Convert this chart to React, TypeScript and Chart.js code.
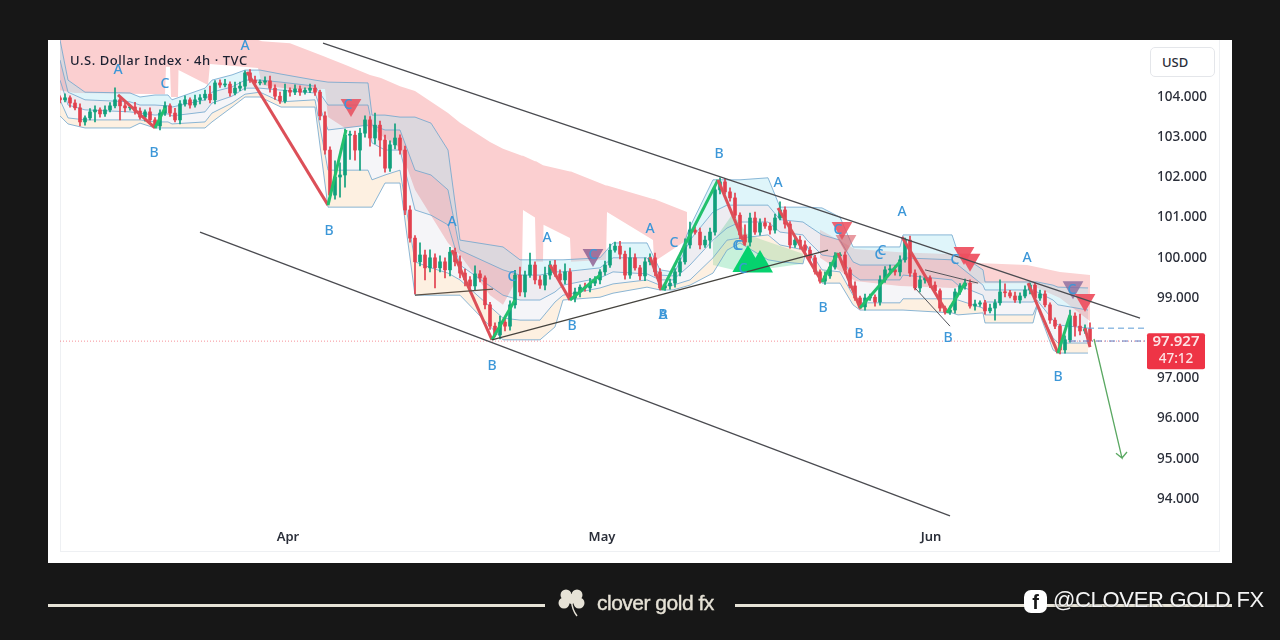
import React, { useEffect, useRef } from "react";
import { Chart, registerables } from "chart.js";

Chart.register(...registerables);

const title = "U.S. Dollar Index · 4h · TVC";
const monthTicks = [45.6, 108.4, 174.2];
const monthLabels = ["Apr", "May", "Jun"];
const lastPrice = 97.927;
const countdown = "47:12";

const closes = [
  103.93,103.98,103.85,103.73,103.38,103.48,103.63,103.68,103.58,103.68,
  103.78,103.93,103.78,103.73,103.75,103.65,103.5,103.63,103.43,103.28,
  103.6,103.78,103.6,103.43,103.83,103.93,103.8,103.93,103.98,104.07,
  103.93,104.35,104.3,104.32,104.1,104.22,104.27,104.6,104.42,104.35,
  104.37,104.4,104.22,104.02,103.9,104.17,104.12,104.2,104.12,104.17,
  104.22,104.12,103.53,102.68,101.56,102.01,102.06,103.05,103.05,102.68,
  103.1,103.43,102.98,103.3,102.93,102.23,102.81,102.98,102.68,101.19,
  100.49,99.9,100.07,99.75,100.0,99.75,99.9,99.7,100.14,99.9,
  99.62,99.45,99.3,99.6,99.5,98.83,98.3,98.08,98.4,98.3,
  98.83,99.57,99.15,99.57,99.82,99.45,99.32,99.57,99.82,99.6,
  99.45,99.65,99.0,99.15,99.27,99.25,99.37,99.45,99.65,99.82,
  100.19,100.29,100.09,99.57,100.0,99.75,99.55,99.9,100.0,99.65,
  99.25,99.3,99.37,99.65,99.9,100.32,100.69,100.64,100.32,100.44,
  100.64,101.69,101.89,101.64,101.49,101.06,100.57,100.39,100.99,100.64,
  100.87,100.79,100.69,100.99,101.19,100.84,100.32,100.44,100.32,100.19,
  100.0,99.65,99.42,99.55,99.77,100.05,100.07,99.7,99.3,99.0,
  98.78,99.0,99.02,98.9,99.45,99.7,99.7,99.65,99.95,100.44,
  99.62,99.25,99.45,99.5,99.32,99.18,98.75,98.65,98.7,99.15,
  99.3,99.37,98.8,98.85,98.88,98.68,98.75,98.88,99.15,99.13,
  99.05,98.95,99.05,99.2,99.32,99.0,99.1,98.83,98.45,98.3,
  97.71,97.96,98.55,98.3,98.18,98.23,97.93,
];
const upperWick = [
  .05,.1,.05,.08,.1,.05,.08,.1,.05,.1,
  .08,.3,.05,.1,.05,.12,.08,.05,.1,.06,
  .08,.1,.05,.12,.08,.1,.05,.12,.08,.1,
  .2,.06,.08,.12,.06,.15,.1,.05,.08,.1,
  .06,.1,.12,.08,.1,.15,.06,.1,.08,.06,
  .1,.08,.05,.1,.08,.4,.3,.15,.1,.1,
  .12,.1,.08,.3,.1,.12,.1,.35,.08,.1,
  .1,.06,.3,.12,.2,.1,.15,.1,.12,.1,
  .15,.1,.08,.2,.08,.05,.06,.08,.15,.1,
  .1,.12,.2,.1,.3,.08,.1,.2,.1,.12,
  .1,.2,.08,.1,.06,.1,.12,.08,.06,.1,
  .15,.1,.12,.08,.25,.1,.06,.1,.1,.12,
  .08,.06,.1,.08,.1,.15,.2,.08,.1,.1,
  .1,.12,.1,.08,.1,.12,.06,.25,.12,.15,
  .1,.12,.08,.1,.2,.08,.06,.08,.1,.1,
  .08,.06,.05,.1,.12,.08,.06,.08,.05,.1,
  .05,.1,.08,.06,.1,.08,.12,.1,.1,.05,
  .1,.08,.1,.06,.05,.08,.05,.05,.1,.08,
  .06,.1,.08,.1,.05,.06,.1,.08,.3,.2,
  .06,.1,.08,.1,.05,.06,.1,.08,.05,.06,
  .05,.1,.15,.08,.3,.1,.15,
];
const lowerWick = [
  .08,.05,.1,.05,.1,.08,.05,.25,.08,.06,
  .05,.05,.35,.1,.06,.08,.05,.1,.06,.05,
  .1,.06,.08,.05,.1,.06,.08,.05,.1,.06,
  .08,.1,.06,.05,.08,.05,.06,.1,.06,.08,
  .05,.06,.1,.08,.06,.05,.1,.06,.08,.05,
  .06,.08,.1,.1,.05,.1,.5,.3,.6,.25,
  .5,.1,.2,.15,.4,.1,.08,.1,.1,.12,
  .1,.8,.1,.3,.1,.5,.1,.2,.15,.1,
  .12,.15,.08,.1,.1,.1,.08,.05,.1,.12,
  .1,.08,.1,.12,.06,.1,.08,.12,.1,.06,
  .08,.1,.05,.1,.12,.08,.1,.06,.1,.08,
  .06,.05,.12,.1,.08,.06,.1,.12,.08,.1,
  .05,.06,.08,.1,.1,.06,.08,.05,.1,.06,
  .2,.08,.1,.05,.08,.06,.1,.08,.1,.06,
  .08,.06,.1,.08,.05,.1,.08,.06,.1,.05,
  .1,.06,.05,.08,.06,.05,.08,.1,.05,.06,
  .05,.08,.06,.1,.08,.06,.05,.08,.1,.06,
  .08,.05,.1,.08,.06,.05,.08,.05,.06,.08,
  .06,.08,.05,.1,.06,.08,.05,.3,.06,.1,
  .05,.06,.08,.05,.1,.08,.06,.05,.08,.06,
  .1,.08,.06,.25,.1,.06,.08,
];

// stepped channel bands
const bandX = [0,1.6,5,14,16,19,21.6,22.4,29,30.4,34.4,37,40,44.2,51,53.6,61.6,62.4,65,68,71,74.2,77.6,80,88.6,92,96,99,100.6,108,110.6,117.4,120,122.6,126,130.6,133.4,136,141.6,144,148.6,149.4,152.4,156,158.6,160,168,168.6,178.4,179.6,184.6,185,194.6,195.4,198.6,199.6,205.6];
const bandTop = [105.42,104.42,104.12,104.1,104,104.05,104.05,103.93,104.22,104.42,104.55,104.67,104.67,104.57,104.42,104.37,104.35,103.55,103.55,103.5,103.5,103.35,102.68,100.44,100.27,99.95,99.95,99.95,99.95,100,100.37,100.37,99.7,99.65,100.77,101.94,101.94,101.94,101.99,101.26,101.26,101.26,101.24,101.01,100.27,100.27,100.27,100.57,100.57,100.12,99.7,99.4,99.4,99.4,99.32,99.27,99.25];
const bandUpper = [104.92,104.12,103.93,103.88,103.8,103.8,103.78,103.75,103.93,104.12,104.25,104.42,104.42,104.37,104.27,103.8,103.8,103.3,103.18,103.18,102.18,102.06,101.69,100.19,99.7,99.57,99.57,99.65,99.65,99.75,100,100,99.57,99.55,100.44,101.14,101.31,101.31,101.31,100.95,100.89,100.82,100.57,100.44,99.9,99.82,99.82,100,99.95,99.82,99.32,99.2,99.2,99.15,98.95,98.83,98.7];
const bandMid = [104.42,103.8,103.68,103.63,103.6,103.55,103.58,103.53,103.63,103.85,104.02,104.22,104.22,104.17,104.1,103.18,103.3,102.86,102.68,102.68,101.19,101.06,100.82,99.82,99.07,98.95,98.95,99.15,99.32,99.5,99.65,99.6,99.45,99.45,99.82,100.44,100.74,100.89,100.89,100.64,100.57,100.44,100.07,100,99.57,99.45,99.45,99.57,99.45,99.32,99.07,98.9,98.9,98.95,98.45,98.33,98.25];
const bandLower = [103.93,103.48,103.43,103.43,103.43,103.38,103.38,103.33,103.38,103.6,103.85,104.07,104.12,103.88,103.93,102.18,102.18,101.94,102.06,102.18,99.9,99.75,99.62,99.45,98.5,98.45,98.45,98.9,99.07,99.25,99.35,99.45,99.32,99.32,99.45,100,100.44,100.49,100.57,100.32,100.2,100.29,99.7,99.65,99.07,98.88,98.88,98.98,98.98,98.95,98.75,98.58,98.58,98.83,98.01,97.88,97.88];
const bandBottom = [103.53,103.33,103.23,103.23,103.35,103.23,103.23,103.23,103.23,103.38,103.75,104,104,103.75,103.75,101.26,101.26,101.26,101.86,101.86,99.07,99.07,99.07,99.07,97.96,97.96,97.96,98.28,98.95,99.02,99.12,99.27,99.2,99.2,99.32,99.62,100.19,100.37,99.95,99.9,99.85,100.29,99.37,99.37,98.83,98.7,98.7,98.7,98.63,98.58,98.63,98.38,98.38,98.78,97.71,97.63,97.63];

// resistance cloud
const cloudX = [0,3,21,21.2,22,22.2,23.6,23.7,29.6,30,39.6,40.4,46,53,53.6,57,62,64.2,68,71,77.6,80,86,88.6,92.4,92.6,95,95.2,96.6,96.7,102,102.2,109.2,109.4,118.6,118.8,125.4];
const cloudTop = [105.42,105.42,105.42,105.42,105.42,105.42,105.42,105.42,105.42,105.42,105.42,105.39,105.34,105.0,104.97,104.8,104.55,104.47,104.27,104.15,103.6,103.36,102.88,102.71,102.54,102.54,102.4,102.4,102.3,102.3,102.15,102.15,101.8,101.8,101.46,101.46,101.14];
const cloudBottom = [104.17,104.1,104.07,104.75,104.75,104.0,104.0,104.67,104.3,104.82,104.72,104.3,104.2,104.2,103.5,103.23,103.3,103.05,102.73,101.69,100.37,100.07,99.07,98.83,99.7,101.19,101.0,99.9,99.9,100.82,100.49,99.9,99.95,101.14,100.44,99.9,100.44];
const cloud2X = [152,159,168,178.6,183.4,193.4,200,206];
const cloud2Top = [100.7,100.22,100.14,100.09,99.87,99.82,99.65,99.57];
const cloud2Bottom = [100.0,99.42,99.3,99.25,99.37,99.37,99.0,98.42];
const greenCloudX = [130.6,134.6,137.4,140,148.6];
const greenCloudTop = [100.4,101.1,100.6,100.47,100.1];
const greenCloudBottom = [99.82,99.7,99.75,99.7,99.85];

// pivots of the A-B-C swings (null breaks the line)
const pivotX = [11.6,19,21,21,37.4,53.6,57.2,57.2,78.4,86.4,91,91,98,102,108,108,118,120.4,131.6,137,137,143.6,152.4,155.6,160,168,168,168.4,177.4,181,181,193.6,199.6,202,202,205,206];
const pivotY = [104.05,103.23,103.73,null,104.62,101.31,103.18,null,100.19,97.96,98.95,null,99.82,98.95,99.57,null,100.02,99.2,101.94,100.32,null,101.24,99.4,100.12,98.75,99.9,null,100.52,98.63,99.37,null,99.37,97.63,98.58,null,98.25,97.78];

// trend lines drawn on the chart: [x0, p0, x1, p1]
const channelUpper = [52.6,105.34,216,98.5];
const channelLower = [28,100.64,178,93.58];
const supportLine = [86.4,97.96,153.6,100.19];
const flatLine = [71,99.07,86.6,99.22];
const smallResistance = [173,99.7,183.6,99.37];
const smallDrop = [171,99.25,178,98.3];
const arrowX = [206.8,212.4,211.2,212.4,213.4];
const arrowP = [97.98,95.02,95.14,95.02,95.17];
const stopDash = [205.6,98.25,217,98.25];
const entryDash = [202,97.93,217,97.93];

const sellX = [58.2,106.6,156.4,157.2,180.8,182,202.6,205];
const sellP = [103.8,100.07,100.74,100.42,100.12,99.95,99.27,98.95];
const sellColor = ["#e8505fdd","#8a5a8ecc","#ee4f5fdd","#d9556099","#ee4f5fee","#ee4f5fee","#8a6a9ecc","#ee4f5fee"];
const buyX = [137.6,140];
const buyP = [99.87,99.82];
const buySize = [18,15];

const waveX = [11.6,21,18.8,37,53.8,57.6,78.4,90.4,97.4,102.4,118,122.8,86.4,120.6,120.6,131.8,143.6,135.4,135.8,136.6,152.6,155.6,159.8,168.4,163.8,164.4,177.6,179,193.4,202.4,199.6,106.6];
const waveP = [104.67,104.32,102.61,105.27,100.67,103.8,100.89,99.52,100.49,98.3,100.72,100.37,97.31,98.58,98.58,102.58,101.86,100.29,100.29,99.72,98.75,100.69,98.1,101.14,100.07,100.17,98.01,99.95,100,99.2,97.04,100.07];
const waveText = ["A","C","B","A","B","C","A","C","A","B","A","C","B","B","A","B","A","C","C","C","B","C","B","A","C","C","B","C","A","C","B","C"];

const GREEN = "#22c06d";
const RED = "#dc4f58";
const CANDLE_UP = "#10a07c";
const CANDLE_DOWN = "#e2404e";
const FONT = '"Noto Sans", sans-serif';

const xy = (xs: number[], ys: (number | null)[]) => xs.map((x, i) => ({ x, y: ys[i] }));
const seg = (s: number[]) => [{ x: s[0], y: s[1] }, { x: s[2], y: s[3] }];

const line = (data: any[], extra: any = {}) => ({
  type: "line",
  data,
  pointRadius: 0,
  borderWidth: 1,
  tension: 0,
  fill: false,
  order: 20,
  ...extra,
});

const waveLabels = {
  id: "waveLabels",
  afterDatasetsDraw(chart: any) {
    const { ctx, scales } = chart;
    ctx.save();
    ctx.font = `500 14px ${FONT}`;
    ctx.fillStyle = "#3c97d8";
    ctx.textAlign = "center";
    ctx.textBaseline = "middle";
    waveText.forEach((t, i) => {
      ctx.fillText(t, scales.x.getPixelForValue(waveX[i]), scales.y.getPixelForValue(waveP[i]));
    });
    ctx.restore();
  },
};

const priceTag = {
  id: "priceTag",
  afterDraw(chart: any) {
    const { ctx, scales } = chart;
    const y = scales.y.getPixelForValue(lastPrice);
    ctx.save();
    ctx.fillStyle = "#ee3446";
    ctx.beginPath();
    ctx.roundRect(1147, y - 8, 58, 36, 2);
    ctx.fill();
    ctx.fillStyle = "#fde3e5";
    ctx.textAlign = "center";
    ctx.textBaseline = "middle";
    ctx.font = `600 15px ${FONT}`;
    ctx.fillText(lastPrice.toFixed(3), 1176, y + 1);
    ctx.font = `500 13.5px ${FONT}`;
    ctx.fillText(countdown, 1176, y + 18);
    ctx.restore();
  },
};

export default function App() {
  const ref = useRef<HTMLCanvasElement | null>(null);

  useEffect(() => {
    const opens = closes.map((c, i) => (i === 0 ? c + 0.05 : closes[i - 1]));
    const colors = closes.map((c, i) => (c >= opens[i] ? CANDLE_UP : CANDLE_DOWN));
    const idx = closes.map((_, i) => i);
    const bandLine = "rgba(110,165,205,0.8)";

    const datasets: any[] = [
      line(xy(cloudX, cloudTop), { order: 100, borderWidth: 0, fill: "+1", backgroundColor: "#fbcfd0" }),
      line(xy(cloudX, cloudBottom), { order: 100, borderWidth: 0 }),
      line(xy(cloud2X, cloud2Top), { order: 100, borderWidth: 0, fill: "+1", backgroundColor: "#fbd3d3" }),
      line(xy(cloud2X, cloud2Bottom), { order: 100, borderWidth: 0 }),
      line(xy(greenCloudX, greenCloudTop), { order: 99, borderWidth: 0, fill: "+1", backgroundColor: "rgba(130,225,175,0.45)" }),
      line(xy(greenCloudX, greenCloudBottom), { order: 99, borderWidth: 0 }),
      line(xy(bandX, bandTop), { order: 90, borderColor: bandLine, fill: "+1", backgroundColor: "rgba(170,230,242,0.38)" }),
      line(xy(bandX, bandUpper), { order: 89, borderColor: bandLine, fill: "+1", backgroundColor: "rgba(150,145,170,0.17)" }),
      line(xy(bandX, bandMid), { order: 88, borderColor: bandLine, fill: "+1", backgroundColor: "rgba(170,175,195,0.12)" }),
      line(xy(bandX, bandLower), { order: 87, borderColor: bandLine, fill: "+1", backgroundColor: "rgba(250,205,155,0.30)" }),
      line(xy(bandX, bandBottom), { order: 86, borderColor: bandLine }),
      {
        type: "bar",
        data: idx.map((i) => ({ x: i, y: [Math.min(opens[i], closes[i]) - lowerWick[i], Math.max(opens[i], closes[i]) + upperWick[i]] })),
        backgroundColor: colors,
        barThickness: 1,
        grouped: false,
        order: 50,
      },
      {
        type: "bar",
        data: idx.map((i) => ({ x: i, y: [opens[i], closes[i]] })),
        backgroundColor: colors,
        barThickness: 3,
        minBarLength: 1,
        grouped: false,
        order: 49,
      },
      line(xy(pivotX, pivotY), {
        order: 40,
        borderWidth: 3,
        borderColor: RED,
        spanGaps: false,
        segment: { borderColor: (c: any) => (c.p1.parsed.y > c.p0.parsed.y ? GREEN : RED) },
      }),
      {
        type: "scatter",
        data: xy(sellX, sellP),
        showLine: false,
        pointStyle: "triangle",
        rotation: 180,
        pointRadius: 12,
        pointBorderWidth: 0,
        pointBackgroundColor: sellColor,
        order: 30,
      },
      {
        type: "scatter",
        data: xy(buyX, buyP),
        showLine: false,
        pointStyle: "triangle",
        pointRadius: buySize,
        pointBorderWidth: 0,
        pointBackgroundColor: "#06d26e",
        order: 30,
      },
      line(seg(channelUpper), { borderColor: "#4a4b50", borderWidth: 1.3 }),
      line(seg(channelLower), { borderColor: "#4a4b50", borderWidth: 1.3 }),
      line(seg(supportLine), { borderColor: "#45433e", borderWidth: 1.3 }),
      line(seg(flatLine), { borderColor: "#5c5044", borderWidth: 1.3 }),
      line(seg(smallResistance), { borderColor: "#55565c" }),
      line(seg(smallDrop), { borderColor: "#55565c" }),
      line(xy(arrowX, arrowP), { borderColor: "#5aa862", borderWidth: 1.3 }),
      line(seg([0, lastPrice, 217.4, lastPrice]), { borderColor: "rgba(242,54,69,0.55)", borderDash: [1, 2], order: 60 }),
      line(seg(stopDash), { borderColor: "#5b9bd5", borderDash: [6, 4] }),
      line(seg(entryDash), { borderColor: "#5a78c0", borderDash: [6, 3, 1, 3] }),
    ];

    const chart = new Chart(ref.current as HTMLCanvasElement, {
      type: "line",
      data: { datasets },
      plugins: [waveLabels, priceTag],
      options: {
        animation: false,
        responsive: false,
        devicePixelRatio: 1,
        layout: { padding: { left: 60, top: 40, right: 55, bottom: 89 } },
        plugins: { legend: { display: false }, tooltip: { enabled: false }, filler: { propagate: false } },
        scales: {
          x: {
            type: "linear",
            offset: false,
            min: 0,
            max: 217,
            grid: { display: false, offset: false },
            border: { display: false },
            afterBuildTicks: (s: any) => { s.ticks = monthTicks.map((value) => ({ value })); },
            afterFit: (s: any) => { s.height = 30; },
            ticks: {
              autoSkip: false,
              maxRotation: 0,
              padding: 0,
              color: "#2a2e39",
              font: { family: FONT, size: 13, weight: "600" },
              callback: (v: any) => monthLabels[monthTicks.indexOf(v)] ?? "",
            },
          },
          y: {
            position: "right",
            min: 93.453,
            max: 105.418,
            grid: { display: false, drawTicks: false },
            border: { display: false },
            afterFit: (s: any) => { s.width = 80; },
            ticks: {
              stepSize: 1,
              includeBounds: false,
              padding: 12,
              color: "#2a2e39",
              font: { family: FONT, size: 13.5, weight: "500" },
              callback: (v: any) => (v > 104.5 || Math.abs(v - lastPrice) < 0.5 ? "" : Number(v).toFixed(3)),
            },
          },
        },
      } as any,
    } as any);
    return () => chart.destroy();
  }, []);

  const abs = (o: React.CSSProperties): React.CSSProperties => ({ position: "absolute", ...o });

  return (
    <div style={{ position: "fixed", left: 0, top: 0, width: 1280, height: 640, background: "#171717", overflow: "hidden", fontFamily: FONT }}>
      <div style={abs({ left: 48, top: 40, width: 1184, height: 523, background: "#fff" })} />
      <div style={abs({ left: 60, top: 40, width: 1158, height: 511, borderLeft: "1px solid #eef0f3", borderRight: "1px solid #eef0f3", borderBottom: "1px solid #eef0f3" })} />
      <canvas ref={ref} width={1280} height={640} style={abs({ left: 0, top: 0, width: 1280, height: 640 })} />
      <div style={abs({ left: 70, top: 51, fontSize: 13, fontWeight: 500, color: "#1c2030", whiteSpace: "nowrap", letterSpacing: 0.55 })}>{title}</div>
      <div style={abs({ left: 1150, top: 47, width: 63, height: 28, lineHeight: "28px", border: "1px solid #e4e6ea", borderRadius: 5, background: "#fff", fontSize: 13, fontWeight: 500, color: "#2a2e39", textIndent: 11 })}>USD</div>

      <div style={abs({ left: 48, top: 604, width: 497, height: 3, background: "#e6e2d6" })} />
      <div style={abs({ left: 735, top: 604, width: 497, height: 3, background: "#e6e2d6" })} />
      <svg width="30" height="30" viewBox="0 0 30 30" style={abs({ left: 557, top: 588 })}>
        <g fill="#e6e2d6">
          <circle cx="9" cy="7" r="5.5" /><circle cx="20" cy="7" r="5.5" />
          <circle cx="7" cy="15" r="5.5" /><circle cx="22" cy="15" r="5.5" />
          <circle cx="14.5" cy="11" r="5" />
        </g>
        <path d="M14.5 12 Q15 22 20 28" stroke="#e6e2d6" strokeWidth="1.5" fill="none" />
      </svg>
      <div style={abs({ left: 597, top: 591, fontSize: 21, color: "#e6e2d6", letterSpacing: -0.5, whiteSpace: "nowrap", fontFamily: '"Liberation Sans", sans-serif', WebkitTextStroke: "0.4px #e6e2d6" })}>clover gold fx</div>
      <div style={abs({ left: 1024, top: 590, width: 23, height: 23, borderRadius: 7, background: "#fff", color: "#171717", fontSize: 20, fontWeight: 700, lineHeight: "25px", textAlign: "center", fontFamily: '"Liberation Sans", sans-serif' })}>f</div>
      <div style={abs({ left: 1053, top: 587, fontSize: 22, color: "#f4f4f4", letterSpacing: -0.3, whiteSpace: "nowrap", fontFamily: '"Liberation Sans", sans-serif', textShadow: "0 0 2px #171717" })}>@CLOVER GOLD FX</div>
    </div>
  );
}
